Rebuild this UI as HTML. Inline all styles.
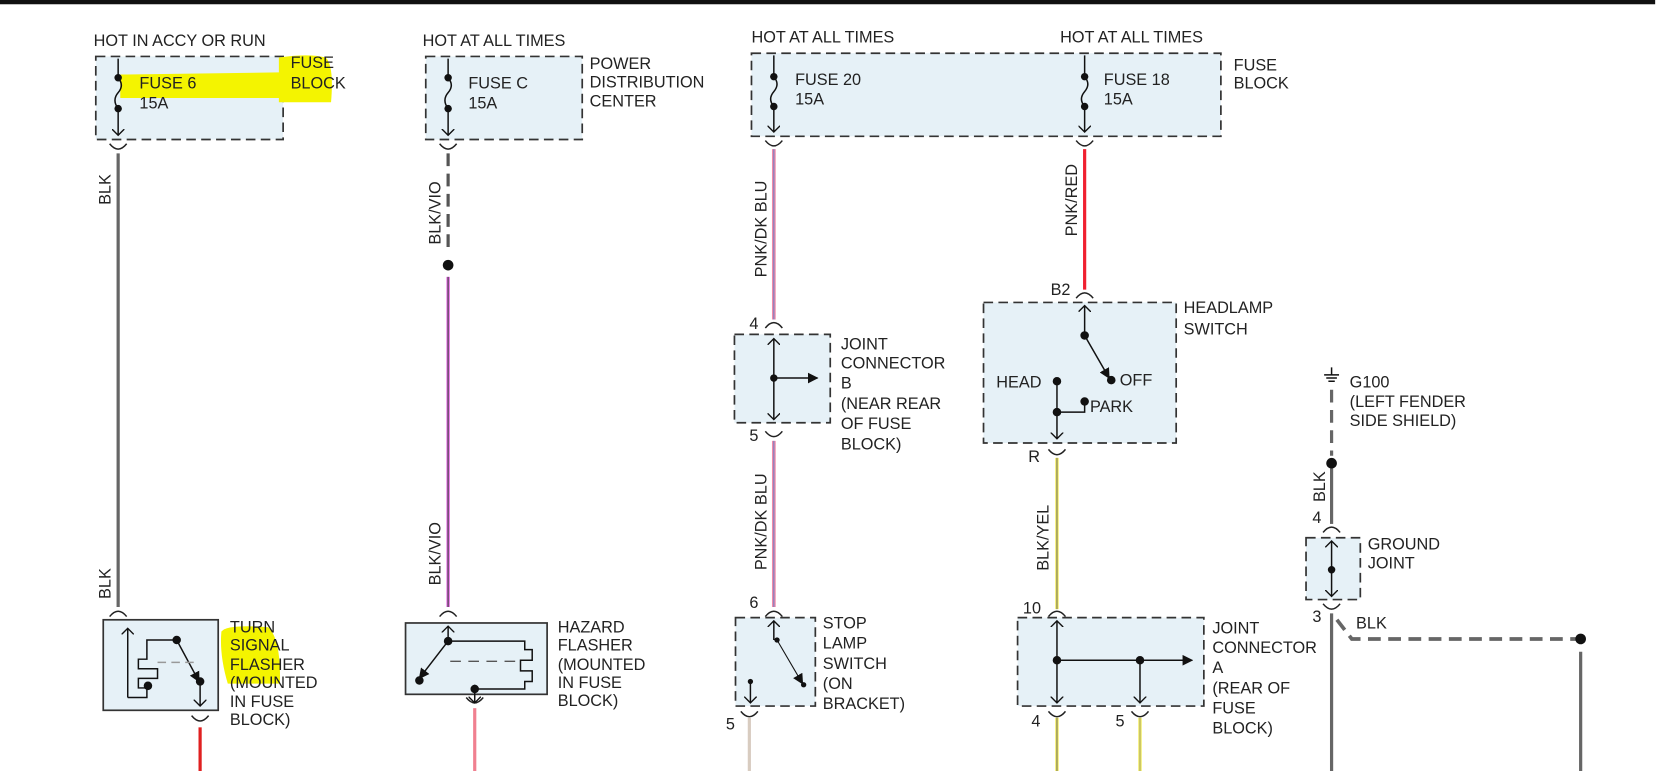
<!DOCTYPE html>
<html><head><meta charset="utf-8"><style>
html,body{margin:0;padding:0;background:#fff;}
svg{display:block;}
text{font-family:"Liberation Sans",sans-serif;font-size:15.3px;fill:#222;}
</style></head><body>
<svg width="1669" height="771" viewBox="0 0 1568 724" preserveAspectRatio="none" xmlns="http://www.w3.org/2000/svg">
<defs>
<marker id="ah" markerWidth="12" markerHeight="12" refX="6" refY="6" orient="auto" markerUnits="userSpaceOnUse">
<path d="M0,0 L6,6 L0,12" fill="none" stroke="#111" stroke-width="1.3"/></marker>
<marker id="af" markerWidth="10" markerHeight="10" refX="9" refY="5" orient="auto" markerUnits="userSpaceOnUse">
<path d="M0,0 L10,5 L0,10 z" fill="#111"/></marker>
</defs>
<rect x="0" y="0" width="1555" height="4" fill="#111"/>

<g fill="#e6f1f7" stroke="#333" stroke-width="1.6" stroke-dasharray="9,5">
<rect x="90" y="53" width="176" height="78"/>
<rect x="400" y="53" width="147" height="78"/>
<rect x="706" y="50" width="441" height="78"/>
<rect x="690" y="314" width="90" height="83"/>
<rect x="924" y="284" width="181" height="132"/>
<rect x="691" y="580" width="75" height="83"/>
<rect x="956" y="580" width="175" height="83"/>
<rect x="1227" y="505" width="51" height="58"/>
</g>
<g fill="#e6f1f7" stroke="#333" stroke-width="1.6">
<rect x="97" y="582" width="108" height="85"/>
<rect x="381" y="585" width="133" height="67"/>
</g>

<!-- highlights -->
<path d="M113,70 L262,68 L262,54 Q290,50 306,54 Q314,62 311,96 L262,96 L262,92 L113,92 z" fill="#f4f400"/>
<path d="M208,593 Q214,586 252,589 Q264,600 263,642 L214,642 Q206,615 208,593 z" fill="#f4f400"/>

<!-- text -->
<text x="88" y="43">HOT IN ACCY OR RUN</text>
<text x="131" y="83">FUSE 6</text><text x="131" y="102">15A</text>
<text x="273" y="64">FUSE</text><text x="273" y="83">BLOCK</text>
<text x="397" y="43">HOT AT ALL TIMES</text>
<text x="440" y="83">FUSE C</text><text x="440" y="102">15A</text>
<text x="554" y="65">POWER</text><text x="554" y="82">DISTRIBUTION</text><text x="554" y="100">CENTER</text>
<text x="706" y="40">HOT AT ALL TIMES</text>
<text x="996" y="40">HOT AT ALL TIMES</text>
<text x="747" y="80">FUSE 20</text><text x="747" y="98">15A</text>
<text x="1037" y="80">FUSE 18</text><text x="1037" y="98">15A</text>
<text x="1159" y="66">FUSE</text><text x="1159" y="83">BLOCK</text>
<text x="216" y="594">TURN</text><text x="216" y="611">SIGNAL</text><text x="216" y="629">FLASHER</text><text x="216" y="646">(MOUNTED</text><text x="216" y="664">IN FUSE</text><text x="216" y="681">BLOCK)</text>
<text x="524" y="594">HAZARD</text><text x="524" y="611">FLASHER</text><text x="524" y="629">(MOUNTED</text><text x="524" y="646">IN FUSE</text><text x="524" y="663">BLOCK)</text>
<text x="704" y="309">4</text><text x="704" y="414">5</text>
<text x="790" y="328">JOINT</text><text x="790" y="346">CONNECTOR</text><text x="790" y="365">B</text><text x="790" y="384">(NEAR REAR</text><text x="790" y="403">OF FUSE</text><text x="790" y="422">BLOCK)</text>
<text x="704" y="571">6</text><text x="682" y="685">5</text>
<text x="773" y="590">STOP</text><text x="773" y="609">LAMP</text><text x="773" y="628">SWITCH</text><text x="773" y="647">(ON</text><text x="773" y="666">BRACKET)</text>
<text x="987" y="277">B2</text>
<text x="1112" y="294">HEADLAMP</text><text x="1112" y="314">SWITCH</text>
<text x="936" y="364">HEAD</text><text x="1052" y="362">OFF</text><text x="1024" y="387">PARK</text>
<text x="966" y="434">R</text>
<text x="961" y="576">10</text>
<text x="1139" y="595">JOINT</text><text x="1139" y="613">CONNECTOR</text><text x="1139" y="632">A</text><text x="1139" y="651">(REAR OF</text><text x="1139" y="670">FUSE</text><text x="1139" y="689">BLOCK)</text>
<text x="969" y="682">4</text><text x="1048" y="682">5</text>
<text x="1268" y="364">G100</text><text x="1268" y="382">(LEFT FENDER</text><text x="1268" y="400">SIDE SHIELD)</text>
<text x="1233" y="491">4</text><text x="1233" y="584">3</text>
<text x="1285" y="516">GROUND</text><text x="1285" y="534">JOINT</text>
<text x="1274" y="590">BLK</text>
<text transform="translate(104,178) rotate(-90)" text-anchor="middle">BLK</text>
<text transform="translate(104,548) rotate(-90)" text-anchor="middle">BLK</text>
<text transform="translate(414,200) rotate(-90)" text-anchor="middle">BLK/VIO</text>
<text transform="translate(414,520) rotate(-90)" text-anchor="middle">BLK/VIO</text>
<text transform="translate(720,215) rotate(-90)" text-anchor="middle">PNK/DK BLU</text>
<text transform="translate(720,490) rotate(-90)" text-anchor="middle">PNK/DK BLU</text>
<text transform="translate(1012,188) rotate(-90)" text-anchor="middle">PNK/RED</text>
<text transform="translate(985,505) rotate(-90)" text-anchor="middle">BLK/YEL</text>
<text transform="translate(1245,457) rotate(-90)" text-anchor="middle">BLK</text>

<!-- wires -->
<g fill="none">
<line x1="111" y1="144" x2="111" y2="570" stroke="#666" stroke-width="3"/>
<line x1="188" y1="683" x2="188" y2="724" stroke="#e02020" stroke-width="3"/>
<line x1="421" y1="144" x2="421" y2="236" stroke="#555" stroke-width="3" stroke-dasharray="12,7"/>
<line x1="421" y1="260" x2="421" y2="570" stroke="#e050e0" stroke-width="3"/>
<line x1="421" y1="260" x2="421" y2="570" stroke="#555" stroke-width="1.2"/>
<line x1="446" y1="665" x2="446" y2="724" stroke="#f08090" stroke-width="3"/>
<line x1="727" y1="140" x2="727" y2="300" stroke="#f08aa8" stroke-width="3.5"/>
<line x1="727" y1="140" x2="727" y2="300" stroke="#7080c8" stroke-width="1"/>
<line x1="727" y1="414" x2="727" y2="570" stroke="#f08aa8" stroke-width="3.5"/>
<line x1="727" y1="414" x2="727" y2="570" stroke="#7080c8" stroke-width="1"/>
<line x1="704" y1="674" x2="704" y2="724" stroke="#d8ccc0" stroke-width="3"/>
<line x1="1019" y1="140" x2="1019" y2="272" stroke="#f02030" stroke-width="3"/>
<line x1="993" y1="430" x2="993" y2="572" stroke="#f0e840" stroke-width="3"/>
<line x1="993" y1="430" x2="993" y2="572" stroke="#777" stroke-width="1"/>
<line x1="993" y1="674" x2="993" y2="724" stroke="#f0e840" stroke-width="3"/>
<line x1="993" y1="674" x2="993" y2="724" stroke="#777" stroke-width="1"/>
<line x1="1071" y1="674" x2="1071" y2="724" stroke="#f0e840" stroke-width="3"/>
<line x1="1071" y1="674" x2="1071" y2="724" stroke="#999" stroke-width="0.8"/>
<line x1="1251" y1="366" x2="1251" y2="428" stroke="#666" stroke-width="3" stroke-dasharray="12,7"/>
<line x1="1251" y1="440" x2="1251" y2="492" stroke="#666" stroke-width="3"/>
<line x1="1251" y1="576" x2="1251" y2="724" stroke="#666" stroke-width="3"/>
<path d="M1256,582 L1270,600 L1485,600" stroke="#666" stroke-width="3.5" stroke-dasharray="12,7"/>
<line x1="1485" y1="612" x2="1485" y2="724" stroke="#666" stroke-width="3"/>
</g>

<!-- connector cups -->
<g fill="none" stroke="#222" stroke-width="1.4">
<path d="M103,135 Q111,145 119,135"/><path d="M438,655 Q446,665 454,655"/>
<path d="M413,135 Q421,145 429,135"/>
<path d="M719,132 Q727,142 735,132"/><path d="M1011,132 Q1019,142 1027,132"/>
<path d="M103,579 Q111,569 119,579"/><path d="M413,579 Q421,569 429,579"/>
<path d="M180,672 Q188,682 196,672"/>
<path d="M719,308 Q727,298 735,308"/><path d="M719,405 Q727,415 735,405"/>
<path d="M719,579 Q727,569 735,579"/><path d="M696,668 Q704,678 712,668"/>
<path d="M1011,280 Q1019,270 1027,280"/><path d="M985,422 Q993,432 1001,422"/>
<path d="M985,579 Q993,569 1001,579"/><path d="M985,668 Q993,678 1001,668"/><path d="M1063,668 Q1071,678 1079,668"/>
<path d="M1243,500 Q1251,490 1259,500"/><path d="M1243,567 Q1251,577 1259,567"/>
</g>

<!-- internals -->
<g fill="none" stroke="#111" stroke-width="1.4">
<path d="M111,55 L111,73 Q117,80 111,87 Q105,94 111,102 L111,127" marker-end="url(#ah)"/>
<path d="M421,55 L421,73 Q427,80 421,87 Q415,94 421,102 L421,127" marker-end="url(#ah)"/>
<path d="M727,52 L727,72 Q733,79 727,86 Q721,93 727,100 L727,124" marker-end="url(#ah)"/>
<path d="M1019,52 L1019,72 Q1025,79 1019,86 Q1013,93 1019,100 L1019,124" marker-end="url(#ah)"/>
<path d="M120,655 L120,590" marker-end="url(#ah)"/>
<path d="M120,655 L138,655 L138,646 L130,646 L130,637 L148,637 L148,628 L130,628 L130,619 L138,619 L138,610 L138,601 L166,601"/>
<path d="M166,601 L187,640" marker-end="url(#af)"/>
<path d="M188,640 L188,663" marker-end="url(#ah)"/>
<path d="M148,622 L185,622" stroke="#999" stroke-dasharray="8,5"/>
<path d="M421,600 L421,588" marker-end="url(#ah)"/>
<path d="M421,602 L394,637" marker-end="url(#af)"/>
<path d="M421,602 L493,602 L493,610 L500,610 L500,620 L489,620 L489,630 L500,630 L500,640 L493,640 L493,647 L446,647"/>
<path d="M446,643 L446,660" marker-end="url(#ah)"/>
<path d="M423,621 L489,621" stroke="#555" stroke-dasharray="10,7"/>
<path d="M727,355 L727,318" marker-end="url(#ah)"/><path d="M727,355 L727,394" marker-end="url(#ah)"/>
<path d="M727,355 L768,355" marker-end="url(#af)"/>
<path d="M1019,315 L1019,287" marker-end="url(#ah)"/>
<path d="M1019,315 L1042,355" marker-end="url(#af)"/>
<path d="M1019,377 L1019,387 L993,387"/>
<path d="M993,358 L993,412" marker-end="url(#ah)"/>
<path d="M727,601 L727,583" marker-end="url(#ah)"/>
<path d="M730,601 L754,642" stroke-width="1" marker-end="url(#af)"/>
<path d="M705,640 L705,660" marker-end="url(#ah)"/>
<path d="M993,620 L993,583" marker-end="url(#ah)"/><path d="M993,620 L993,660" marker-end="url(#ah)"/>
<path d="M993,620 L1120,620" marker-end="url(#af)"/>
<path d="M1071,620 L1071,660" marker-end="url(#ah)"/>
<path d="M1251,535 L1251,508" marker-end="url(#ah)"/><path d="M1251,535 L1251,560" marker-end="url(#ah)"/>
<path d="M1251,345 L1251,352 M1244,352 L1258,352 M1246,355 L1256,355 M1248,358 L1254,358"/>
</g>
<g fill="#111">
<circle cx="111" cy="73" r="3.5"/><circle cx="111" cy="102" r="3.5"/>
<circle cx="421" cy="73" r="3.5"/><circle cx="421" cy="102" r="3.5"/>
<circle cx="727" cy="72" r="3.5"/><circle cx="727" cy="100" r="3.5"/>
<circle cx="1019" cy="72" r="3.5"/><circle cx="1019" cy="100" r="3.5"/>
<circle cx="421" cy="249" r="5"/>
<circle cx="166" cy="601" r="4"/><circle cx="188" cy="640" r="4"/><circle cx="139" cy="644" r="4"/>
<circle cx="421" cy="602" r="4"/><circle cx="394" cy="639" r="4"/><circle cx="446" cy="647" r="4"/>
<circle cx="727" cy="355" r="3.5"/>
<circle cx="1019" cy="315" r="4"/><circle cx="1044" cy="357" r="4"/><circle cx="993" cy="358" r="4"/><circle cx="1019" cy="377" r="4"/><circle cx="993" cy="387" r="4"/>
<circle cx="730" cy="601" r="2.5"/><circle cx="755" cy="643" r="2.5"/><circle cx="705" cy="640" r="2.5"/>
<circle cx="993" cy="620" r="4"/><circle cx="1071" cy="620" r="4"/>
<circle cx="1251" cy="435" r="5"/><circle cx="1251" cy="535" r="3.5"/>
<circle cx="1485" cy="600" r="5"/>
</g>
</svg>
</body></html>
